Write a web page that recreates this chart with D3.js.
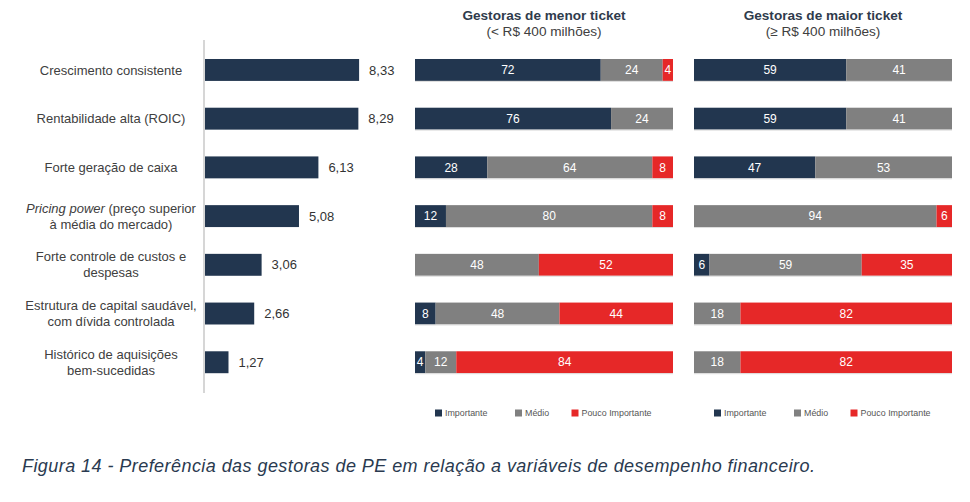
<!DOCTYPE html>
<html>
<head>
<meta charset="utf-8">
<script src="https://cdn.jsdelivr.net/npm/d3@7.9.0/dist/d3.min.js"></script>
<style>
  body { margin: 0; background: #fff; }
  svg { font-family: "Liberation Sans", Arial, sans-serif; }
</style>
</head>
<body>
<svg id="chart" width="970" height="502"></svg>
<script>
// category labels (lines), average score, and % distribution per group
const categories = [
  ['Crescimento consistente'],
  ['Rentabilidade alta (ROIC)'],
  ['Forte geração de caixa'],
  ['Pricing power| (preço superior', 'à média do mercado)'],
  ['Forte controle de custos e', 'despesas'],
  ['Estrutura de capital saudável,', 'com dívida controlada'],
  ['Histórico de aquisições', 'bem-sucedidas']
];
const scores = [8.33, 8.29, 6.13, 5.08, 3.06, 2.66, 1.27];

const levels = ['Importante', 'Médio', 'Pouco Importante'];
const menorImportante = [72, 76, 28, 12, 0, 8, 4];
const menorMedio      = [24, 24, 64, 80, 48, 48, 12];
const menorPouco      = [4, 0, 8, 8, 52, 44, 84];
const maiorImportante = [59, 59, 47, 0, 6, 0, 0];
const maiorMedio      = [41, 41, 53, 94, 59, 18, 18];
const maiorPouco      = [0, 0, 0, 6, 35, 82, 82];

const panelTitles = [
  ['Gestoras de menor ticket', '(< R$ 400 milhões)'],
  ['Gestoras de maior ticket', '(≥ R$ 400 milhões)']
];
const caption = 'Figura 14 - Preferência das gestoras de PE em relação a variáveis de desempenho financeiro.';

const colors = { 'Importante': '#22364f', 'Médio': '#808080', 'Pouco Importante': '#e62828' };
const textColor = '#404040';

const svg = d3.select('#chart');
const idx = d3.range(categories.length);

const y = d3.scaleBand()
  .domain(idx)
  .range([45.6, 386.6])
  .paddingInner(0.55)
  .paddingOuter(0.275);

// ---- left bar chart
const x = d3.scaleLinear().domain([0, 10]).range([205, 390]);

svg.append('line')
  .attr('x1', 204).attr('x2', 204)
  .attr('y1', 40).attr('y2', 393)
  .attr('stroke', '#c8c8c8').attr('stroke-width', 1.5);

svg.append('g').selectAll('rect')
  .data(idx)
  .join('rect')
  .attr('x', x(0))
  .attr('y', i => y(i))
  .attr('width', i => x(scores[i]) - x(0))
  .attr('height', y.bandwidth())
  .attr('fill', colors['Importante']);

svg.append('g').selectAll('text')
  .data(idx)
  .join('text')
  .attr('x', i => x(scores[i]) + 10)
  .attr('y', i => y(i) + y.bandwidth() / 2)
  .attr('dy', '0.35em')
  .attr('font-size', 13)
  .attr('fill', '#333')
  .text(i => scores[i].toFixed(2).replace('.', ','));

// category labels
const labels = svg.append('g').selectAll('text')
  .data(idx)
  .join('text')
  .attr('text-anchor', 'middle')
  .attr('font-size', 13)
  .attr('fill', textColor);

labels.each(function (i) {
  const lines = categories[i];
  const t = d3.select(this);
  const cy = y(i) + y.bandwidth() / 2;
  const lh = 16;
  const y0 = cy - (lines.length - 1) * lh / 2;
  lines.forEach((line, k) => {
    const parts = line.split('|');
    if (parts.length > 1) {
      t.append('tspan').attr('x', 111).attr('y', y0 + k * lh).attr('dy', '0.35em')
        .attr('font-style', 'italic').text(parts[0]);
      t.append('tspan').text(parts[1]);
    } else {
      t.append('tspan').attr('x', 111).attr('y', y0 + k * lh).attr('dy', '0.35em').text(line);
    }
  });
});

// ---- stacked panels
function stackedPanel(x0, x1, imp, med, pouco, title) {
  const xs = d3.scaleLinear().domain([0, 100]).range([x0, x1]);
  const rows = idx.map(i => ({ i, 'Importante': imp[i], 'Médio': med[i], 'Pouco Importante': pouco[i] }));
  const series = d3.stack().keys(levels)(rows);
  const g = svg.append('g');

  const layer = g.selectAll('g.layer')
    .data(series)
    .join('g')
    .attr('class', 'layer')
    .attr('fill', s => colors[s.key]);

  layer.selectAll('rect')
    .data(s => s.filter(d => d[1] - d[0] > 0))
    .join('rect')
    .attr('x', d => xs(d[0]))
    .attr('y', d => y(d.data.i))
    .attr('width', d => xs(d[1]) - xs(d[0]))
    .attr('height', y.bandwidth());

  layer.selectAll('text')
    .data(s => s.filter(d => d[1] - d[0] > 0))
    .join('text')
    .attr('x', d => (xs(d[0]) + xs(d[1])) / 2)
    .attr('y', d => y(d.data.i) + y.bandwidth() / 2)
    .attr('dy', '0.35em')
    .attr('text-anchor', 'middle')
    .attr('font-size', 12)
    .attr('fill', '#fff')
    .text(d => d[1] - d[0]);

  // subtle light line under each bar
  g.selectAll('line.base')
    .data(idx)
    .join('line')
    .attr('class', 'base')
    .attr('x1', x0).attr('x2', x1)
    .attr('y1', i => y(i) + y.bandwidth() + 0.5)
    .attr('y2', i => y(i) + y.bandwidth() + 0.5)
    .attr('stroke', '#dcdcdc');

  const cx = (x0 + x1) / 2;
  g.append('text')
    .attr('x', cx).attr('y', 20)
    .attr('text-anchor', 'middle')
    .attr('font-size', 13.6).attr('font-weight', 'bold')
    .attr('fill', '#2f3b4c')
    .text(title[0]);
  g.append('text')
    .attr('x', cx).attr('y', 36)
    .attr('text-anchor', 'middle')
    .attr('font-size', 13.6)
    .attr('fill', textColor)
    .text(title[1]);

  // legend
  const legendX = [x0 + 20, x0 + 100, x0 + 156.5];
  const lg = g.selectAll('g.legend')
    .data(levels)
    .join('g')
    .attr('class', 'legend')
    .attr('transform', (d, k) => `translate(${legendX[k]}, 413)`);
  lg.append('rect')
    .attr('x', 0).attr('y', -3.5).attr('width', 7).attr('height', 7)
    .attr('fill', d => colors[d]);
  lg.append('text')
    .attr('x', 10).attr('dy', '0.35em')
    .attr('font-size', 8.9)
    .attr('fill', '#555')
    .text(d => d);
}

stackedPanel(415, 673, menorImportante, menorMedio, menorPouco, panelTitles[0]);
stackedPanel(694, 952, maiorImportante, maiorMedio, maiorPouco, panelTitles[1]);

svg.append('text')
  .attr('x', 22).attr('y', 472)
  .attr('font-size', 18)
  .attr('font-style', 'italic')
  .attr('textLength', 793)
  .attr('lengthAdjust', 'spacing')
  .attr('fill', '#2a3a50')
  .text(caption);
</script>
</body>
</html>
